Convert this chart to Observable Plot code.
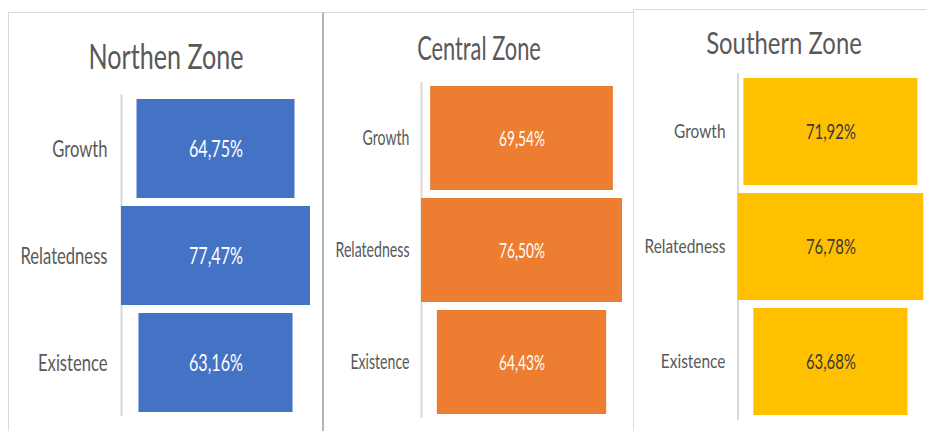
<!DOCTYPE html>
<html><head><meta charset="utf-8">
<script src="https://cdn.jsdelivr.net/npm/d3@7"></script>
<script src="https://cdn.jsdelivr.net/npm/@observablehq/plot@0.6"></script>
<style>
body{margin:0;background:#fff;}
#wrap{position:relative;width:926px;height:431px;overflow:hidden;background:#fff;font-family:Lato,"Open Sans",sans-serif;}
.frame{position:absolute;box-sizing:border-box;}
.title{position:absolute;color:#595959;white-space:nowrap;line-height:1;}
.plot{position:absolute;}
</style></head><body><div id="wrap"></div>
<script>
const categories = ["Growth", "Relatedness", "Existence"];
const zones = ["Northen Zone", "Central Zone", "Southern Zone"];
const northen = [64.75, 77.47, 63.16];
const central = [69.54, 76.50, 64.43];
const southern = [71.92, 76.78, 63.68];
const barColors = ["#4472C4", "#ED7D31", "#FFC000"];
const valueColors = ["#ffffff", "#ffffff", "#3b3b3b"];

const FONT = 'Lato,"Open Sans",sans-serif';
const wrap = document.getElementById("wrap");

const layouts = [
  {frame:{left:8, top:12, width:316, height:430, border:"1px solid #d9d9d9", borderRight:"2px solid #b4b4b4", borderBottom:"none"},
   title:{x:166, y:55, size:35, w:155},
   plot:{left:8, top:60, width:315, height:371, mt:34, mb:15, ml:113, mr:13, pi:0.075, po:0.037, labelSize:24, labelW:87, pad:14, valueSize:23.5, valueW:54}},
  {frame:{left:324, top:12, width:310, height:430, border:"none", borderTop:"1px solid #d9d9d9", borderRight:"1px solid #dcdcdc"},
   title:{x:479, y:48, size:32, w:124},
   plot:{left:324, top:60, width:309, height:371, mt:22, mb:13, ml:97, mr:11, pi:0.071, po:0.027, labelSize:21, labelW:74, pad:12, valueSize:22, valueW:46}},
  {frame:{left:633, top:9, width:300, height:430, border:"none", borderTop:"1px solid #d9d9d9", borderLeft:"1px solid #dcdcdc"},
   title:{x:784, y:42, size:30, w:156},
   plot:{left:633, top:50, width:293, height:381, mt:23, mb:11, ml:104.5, mr:2.7, pi:0.069, po:0.035, labelSize:20, labelW:81, pad:12.5, valueSize:21, valueW:50}}
];

const series = [northen, central, southern];
const fmt = v => v.toFixed(2).replace(".", ",") + "%";

function squeeze(arr, refIndex, targetW) {
  if (!arr.length) return;
  const ref = arr[Math.min(Math.max(refIndex, 0), arr.length - 1)].getComputedTextLength();
  const sx = targetW / ref;
  arr.forEach(n => {
    const w = n.getComputedTextLength();
    n.setAttribute("textLength", (w * sx).toFixed(2));
    n.setAttribute("lengthAdjust", "spacingAndGlyphs");
  });
}

series.forEach((vals, i) => {
  const L = layouts[i];
  const f = document.createElement("div");
  f.className = "frame";
  Object.assign(f.style, {left:L.frame.left+"px", top:L.frame.top+"px", width:L.frame.width+"px", height:L.frame.height+"px"});
  ["border","borderTop","borderRight","borderLeft","borderBottom"].forEach(k => { if (L.frame[k]) f.style[k] = L.frame[k]; });
  wrap.appendChild(f);

  const t = document.createElement("div");
  t.className = "title";
  t.textContent = zones[i];
  Object.assign(t.style, {left:L.title.x+"px", top:L.title.y+"px", fontSize:L.title.size+"px"});
  wrap.appendChild(t);
  const tw = t.offsetWidth;
  t.style.transform = `translate(-50%,-50%) scaleX(${L.title.w / tw})`;

  const data = categories.map((c, j) => ({category: c, value: vals[j]}));
  const m = d3.max(vals);
  const P = L.plot;
  const chart = Plot.plot({
    width: P.width, height: P.height,
    marginTop: P.mt, marginBottom: P.mb, marginLeft: P.ml, marginRight: P.mr,
    style: {fontFamily: FONT, fontSize: P.labelSize + "px", color: "#595959", background: "transparent", overflow: "visible"},
    x: {domain: [-m / 2, m / 2], axis: null},
    y: {domain: categories, paddingInner: P.pi, paddingOuter: P.po, axis: null},
    marks: [
      Plot.ruleX([-m / 2], {stroke: "#d9d9d9", strokeWidth: 2}),
      Plot.barX(data, {x1: d => -d.value / 2, x2: d => d.value / 2, y: "category", fill: barColors[i]}),
      Plot.axisY({tickSize: 0, tickPadding: P.pad, fontSize: P.labelSize, label: null, fill: "#595959"}),
      Plot.text(data, {y: "category", frameAnchor: "middle", text: d => fmt(d.value), fill: valueColors[i], fontSize: P.valueSize})
    ]
  });
  chart.classList.add("plot");
  chart.style.left = P.left + "px";
  chart.style.top = P.top + "px";
  wrap.appendChild(chart);

  const texts = Array.from(chart.querySelectorAll("text"));
  const valueTexts = texts.filter(n => n.textContent.trim().endsWith("%"));
  const catTexts = texts.filter(n => categories.includes(n.textContent.trim()));
  squeeze(catTexts, catTexts.findIndex(n => n.textContent.trim() === "Relatedness"), P.labelW);
  squeeze(valueTexts, 0, P.valueW);
});
</script></body></html>
